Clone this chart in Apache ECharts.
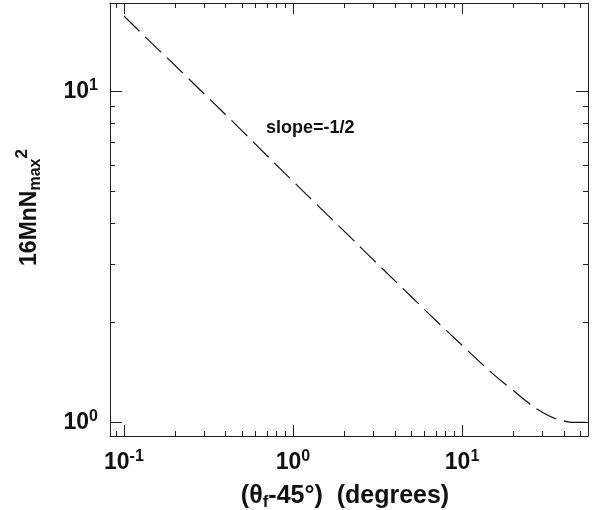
<!DOCTYPE html>
<html>
<head>
<meta charset="utf-8">
<script src="https://cdn.jsdelivr.net/npm/echarts@6/dist/echarts.min.js"></script>
<style>
    html, body { margin: 0; padding: 0; background: #fff; }
    #main { width: 599px; height: 510px; }
</style>
</head>
<body>
<div id="main"></div>
<script>
// values
var thetaDiff = [0.1, 0.15, 0.2, 0.3, 0.5, 0.7, 1, 1.5, 2, 3, 5, 7, 10, 15, 20, 25, 30, 35, 40, 45, 50, 55];
var nMax = [16.9, 13.8, 12.0, 9.8, 7.6, 6.4, 5.35, 4.37, 3.79, 3.09, 2.40, 2.03, 1.71, 1.41, 1.25, 1.14, 1.07, 1.03, 1.01, 1.0, 1.0, 1.0];

var xMajor = [0.1, 1, 10];
var xMinor = [0.09, 0.2, 0.3, 0.4, 0.5, 0.6, 0.7, 0.8, 0.9, 2, 3, 4, 5, 6, 7, 8, 9, 20, 30, 40, 50];
var yMajor = [1, 10];
var yMinor = [2, 3, 4, 5, 6, 7, 8, 9];

var xMin = 0.0827, xMax = 55.6;
var yMin = 0.909, yMax = 18.5;

var chart = echarts.init(document.getElementById('main'));
var font = '"Liberation Sans", Arial, Helvetica, sans-serif';

function powLabel(v) {
    var e = Math.round(Math.log(v) / Math.LN10);
    return '{b|10}{e|' + e + '}';
}

var labelRich = {
    b: { fontSize: 23, fontWeight: 'bold', fontFamily: font, color: '#111', lineHeight: 26 },
    e: { fontSize: 16, fontWeight: 'bold', fontFamily: font, color: '#111', padding: [0, 0, 12, 0] }
};

function makeAxis(type, pos, min, max, ticks, len, showLine, labels) {
    return {
        type: 'log',
        logBase: 10,
        position: pos,
        min: min,
        max: max,
        axisLine: { show: showLine, lineStyle: { color: '#222', width: 1 } },
        axisTick: { show: true, inside: true, length: len, customValues: ticks, lineStyle: { color: '#222', width: 1 } },
        axisLabel: labels ? {
            show: true,
            customValues: labels,
            formatter: powLabel,
            rich: labelRich,
            margin: type === 'x' ? 13 : 12
        } : { show: false },
        splitLine: { show: false },
        minorTick: { show: false }
    };
}

var xBottom = makeAxis('x', 'bottom', xMin, xMax, xMajor, 11, true, xMajor);
xBottom.name = '{n|(θ}{s|f}{n|-45°)  (degrees)}';
xBottom.nameLocation = 'middle';
xBottom.nameGap = 46;
xBottom.nameTextStyle = {
    padding: [0, 8, 0, 0],
    rich: {
        n: { fontSize: 25, fontWeight: 'bold', fontFamily: font, color: '#111' },
        s: { fontSize: 17, fontWeight: 'bold', fontFamily: font, color: '#111', padding: [12, 0, 0, 0] }
    }
};

var yLeft = makeAxis('y', 'left', yMin, yMax, yMajor, 12, true, yMajor);
yLeft.name = '{n|16MnN}{s|max}{p|2}';
yLeft.nameLocation = 'middle';
yLeft.nameRotate = 90;
yLeft.nameGap = 65;
yLeft.nameTextStyle = {
    padding: [0, 0, 0, 24],
    rich: {
        n: { fontSize: 23, fontWeight: 'bold', fontFamily: font, color: '#111' },
        s: { fontSize: 16, fontWeight: 'bold', fontFamily: font, color: '#111', padding: [12, 0, 0, 0] },
        p: { fontSize: 17, fontWeight: 'bold', fontFamily: font, color: '#111', padding: [0, 0, 14, 0] }
    }
};

var option = {
    backgroundColor: '#fff',
    animation: false,
    grid: { left: 110, right: 11, top: 3, bottom: 74, outerBoundsMode: 'none', containLabel: false },
    xAxis: [
        xBottom,
        makeAxis('x', 'bottom', xMin, xMax, xMinor, 5, false, null),
        makeAxis('x', 'top', xMin, xMax, xMajor, 11, true, null),
        makeAxis('x', 'top', xMin, xMax, xMinor, 5, false, null)
    ],
    yAxis: [
        yLeft,
        makeAxis('y', 'left', yMin, yMax, yMinor, 5, false, null),
        makeAxis('y', 'right', yMin, yMax, yMajor, 12, true, null),
        makeAxis('y', 'right', yMin, yMax, yMinor, 5, false, null)
    ],
    graphic: [
        {
            type: 'text',
            left: 266,
            top: 119,
            style: {
                text: 'slope=-1/2',
                font: 'bold 18px ' + font,
                fill: '#111'
            }
        }
    ],
    series: [
        {
            name: '16MnNmax2',
            type: 'line',
            xAxisIndex: 0,
            yAxisIndex: 0,
            data: thetaDiff.map(function (x, i) { return [x, nMax[i]]; }),
            showSymbol: false,
            smooth: true,
            lineStyle: { color: '#111', width: 1.2, type: [22, 8] }
        }
    ]
};
chart.setOption(option);
</script>
</body>
</html>
